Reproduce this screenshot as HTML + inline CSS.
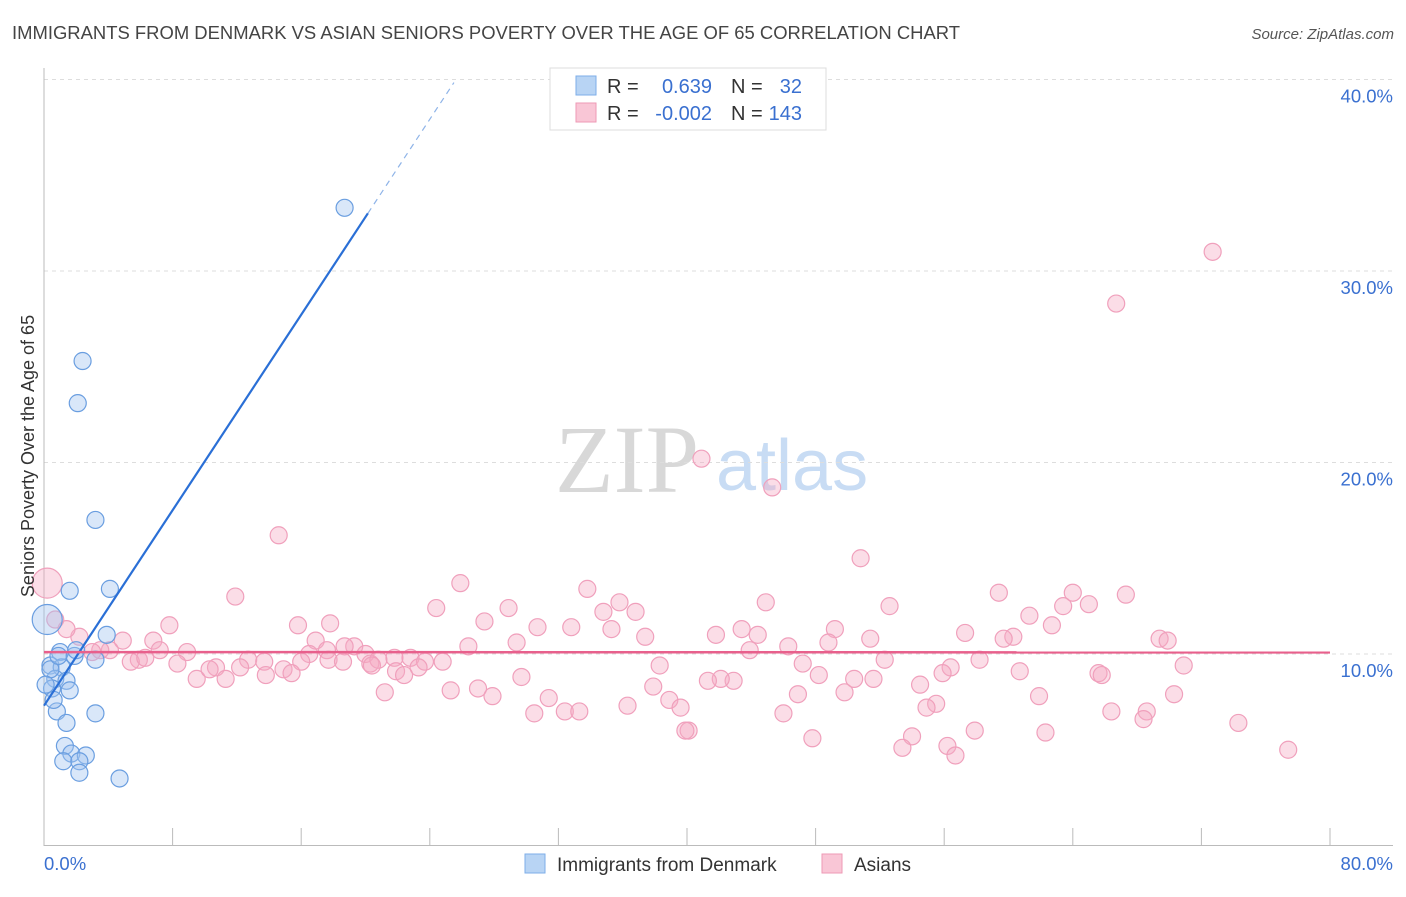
<!DOCTYPE html>
<html><head><meta charset="utf-8"><style>
body{margin:0;background:#fff;font-family:"Liberation Sans",sans-serif;}
</style></head><body>
<svg id="chart" width="1406" height="892" xmlns="http://www.w3.org/2000/svg" font-family="Liberation Sans, sans-serif">
<text x="12" y="39" font-size="18" fill="#444" textLength="948" lengthAdjust="spacingAndGlyphs">IMMIGRANTS FROM DENMARK VS ASIAN SENIORS POVERTY OVER THE AGE OF 65 CORRELATION CHART</text>
<text x="1394" y="39" font-size="15" fill="#555" font-style="italic" text-anchor="end">Source: ZipAtlas.com</text>
<g>
<text x="555" y="492" font-size="96" fill="#d8d8d8" font-family="Liberation Serif, serif">ZIP</text>
<text x="716" y="490" font-size="72" fill="#c8dcf4">atlas</text>
</g>
<g id="grid"></g>
<g id="axes"></g>
<g id="pinkpts"></g>
<g id="bluepts"></g>
<g id="lines"></g>
<g>
<rect x="550" y="68" width="276" height="62" fill="#fff" stroke="#ddd"/>
<rect x="576" y="76" width="20" height="19" fill="#b8d4f4" stroke="#7eaee8"/>
<rect x="576" y="103" width="20" height="19" fill="#f9c6d6" stroke="#ee9ab5"/>
<text x="607" y="93" font-size="20" fill="#333">R =</text>
<text x="712" y="93" font-size="20" fill="#3a70d0" text-anchor="end">0.639</text>
<text x="731" y="93" font-size="20" fill="#333">N =</text>
<text x="802" y="93" font-size="20" fill="#3a70d0" text-anchor="end">32</text>
<text x="607" y="120" font-size="20" fill="#333">R =</text>
<text x="712" y="120" font-size="20" fill="#3a70d0" text-anchor="end">-0.002</text>
<text x="731" y="120" font-size="20" fill="#333">N =</text>
<text x="802" y="120" font-size="20" fill="#3a70d0" text-anchor="end">143</text>
</g>
<g>
<rect x="525" y="854" width="20" height="19" fill="#b8d4f4" stroke="#7eaee8"/>
<text x="557" y="871" font-size="19" fill="#333">Immigrants from Denmark</text>
<rect x="822" y="854" width="20" height="19" fill="#f9c6d6" stroke="#ee9ab5"/>
<text x="854" y="871" font-size="19" fill="#333">Asians</text>
</g>
<text transform="translate(34,456) rotate(-90)" font-size="18" fill="#333" text-anchor="middle">Seniors Poverty Over the Age of 65</text>
</svg>
<script>
const yTicks=[10,20,30,40];
const yTickLabels=["10.0%","20.0%","30.0%","40.0%"];
const xEndLabels=["0.0%","80.0%"];
const blueX=[18.7,2.4,2.1,3.2,4.1,1.6,3.9,1.0,1.9,3.2,0.4,1.1,0.7,0.5,1.4,1.6,0.8,3.2,1.4,1.3,1.7,1.2,2.6,2.2,2.2,4.7,0.2,0.4,0.9,0.1,0.6,2.0];
const blueY=[33.3,25.3,23.1,17.0,13.4,13.3,11.0,10.1,9.9,9.7,9.4,9.3,8.7,8.2,8.6,8.1,7.0,6.9,6.4,5.2,4.8,4.4,4.7,4.4,3.8,3.5,11.8,9.2,9.9,8.4,7.6,10.2];
const pinkX=[72.7,66.7,40.9,45.3,14.6,50.8,0.2,25.9,33.8,11.9,67.3,59.4,64.0,44.9,35.8,52.6,65.0,63.4,61.3,24.4,28.9,36.8,34.8,27.4,17.8,15.8,7.8,62.7,30.7,32.8,35.3,43.4,49.2,57.3,41.8,44.4,37.4,60.3,59.7,69.4,69.9,51.4,48.8,29.4,26.4,16.9,19.3,18.7,17.6,16.5,20.0,21.8,6.8,4.9,2.2,1.4,0.7,4.1,3.5,3.0,8.9,7.2,5.9,5.4,6.3,8.3,10.7,12.7,13.7,14.9,16.0,17.7,18.6,20.3,20.8,22.8,23.7,24.8,23.3,21.9,22.4,20.4,13.8,11.3,9.5,10.3,12.2,15.4,43.9,46.3,52.3,58.2,70.9,38.3,47.2,56.4,60.7,65.6,65.8,55.9,51.6,54.5,50.4,48.2,42.9,42.1,41.3,37.9,29.7,25.3,21.2,27.0,27.9,31.4,38.9,39.6,36.3,70.3,61.9,66.4,68.6,68.4,74.3,32.4,30.5,33.3,46.0,55.5,54.9,57.9,62.3,54.0,47.8,40.1,39.9,56.2,53.4,56.7,77.4,49.8,46.9];
const pinkY=[31.0,28.3,20.2,18.7,16.2,15.0,13.7,13.7,13.4,13.0,13.1,13.2,13.2,12.7,12.7,12.5,12.6,12.5,12.0,12.4,12.4,12.2,12.2,11.7,11.6,11.5,11.5,11.5,11.4,11.4,11.3,11.3,11.3,11.1,11.0,11.0,10.9,10.9,10.8,10.8,10.7,10.8,10.6,10.6,10.4,10.7,10.4,10.4,10.2,10.0,10.0,9.8,10.7,10.7,10.9,11.3,11.8,10.2,10.2,10.1,10.1,10.2,9.7,9.6,9.8,9.5,9.3,9.7,9.6,9.2,9.6,9.7,9.6,9.5,9.7,9.8,9.6,9.6,9.3,9.1,8.9,9.4,8.9,8.7,8.7,9.2,9.3,9.0,10.2,10.4,9.7,9.7,9.4,9.4,9.5,9.3,9.1,9.0,8.9,9.0,8.7,8.4,8.7,8.9,8.6,8.7,8.6,8.3,8.8,8.1,8.0,8.2,7.8,7.7,7.6,7.2,7.3,7.9,7.8,7.0,7.0,6.6,6.4,7.0,6.9,7.0,6.9,7.4,7.2,6.0,5.9,5.7,5.6,6.0,6.0,5.2,5.1,4.7,5.0,8.0,7.9];
const blueTrend=[7.3,1.276];
const pinkTrend=[10.1,-0.0002];
const NS="http://www.w3.org/2000/svg";
const X=v=>44+v*1286/80;
const Y=v=>845.5-v*19.15;
function mk(parent,tag,attrs){const e=document.createElementNS(NS,tag);for(const k in attrs)e.setAttribute(k,attrs[k]);document.getElementById(parent).appendChild(e);return e;}
yTicks.forEach((t,i)=>{
 const g=mk('grid','line',{x1:44,x2:1393,y1:Y(t),y2:Y(t),stroke:'#ddd','stroke-dasharray':'4,4'});
 
 
 const l=mk('axes','text',{x:1393,y:Y(t)+23,'font-size':18.5,fill:'#3a70d0','text-anchor':'end'});
 l.textContent=yTickLabels[i];
 
 
});
mk('axes','line',{x1:44,x2:44,y1:68,y2:846,stroke:'#bbb'});
mk('axes','line',{x1:44,x2:1393,y1:845.5,y2:845.5,stroke:'#bbb'});
for(let i=0;i<=10;i++){const t=mk('axes','line',{x1:X(i*8),x2:X(i*8),y1:828,y2:846,stroke:'#bbb'});
 
 }
const x0=mk('axes','text',{x:44,y:870,'font-size':18.5,fill:'#3a70d0'});x0.textContent=xEndLabels[0];


const x1=mk('axes','text',{x:1393,y:870,'font-size':18.5,fill:'#3a70d0','text-anchor':'end'});x1.textContent=xEndLabels[1];


pinkX.forEach((v,i)=>{const big=i==6;const c=mk('pinkpts','circle',{cx:X(v),cy:Y(pinkY[i]),r:big?15:8.5,fill:'rgba(246,170,196,0.4)',stroke:'#f0a0bc','stroke-width':1.2});
 
 });
blueX.forEach((v,i)=>{const big=i==26;const c=mk('bluepts','circle',{cx:X(v),cy:Y(blueY[i]),r:big?15:8.5,fill:'rgba(160,196,240,0.4)',stroke:'#6a9ee0','stroke-width':1.2});
 
 });
const bl=mk('lines','line',{x1:X(0),y1:Y(blueTrend[0]),x2:X(20.15),y2:Y(blueTrend[0]+blueTrend[1]*20.15),stroke:'#2a6fd6','stroke-width':2.2});


const bd=mk('lines','line',{x1:X(20.15),y1:Y(blueTrend[0]+blueTrend[1]*20.15),x2:X(25.5),y2:Y(blueTrend[0]+blueTrend[1]*25.5),stroke:'#8fb4e8','stroke-width':1.2,'stroke-dasharray':'6,5'});


const pl=mk('lines','line',{x1:X(0),y1:Y(pinkTrend[0]),x2:X(80),y2:Y(pinkTrend[0]+pinkTrend[1]*80),stroke:'#e8608c','stroke-width':2.5});


</script>
</body></html>
